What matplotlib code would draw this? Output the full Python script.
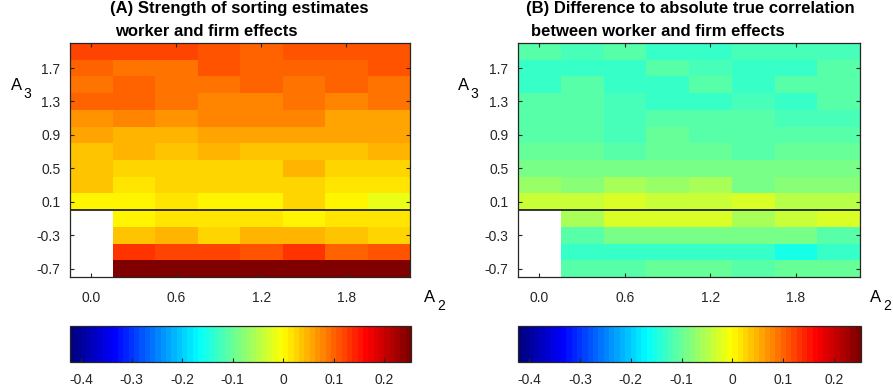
#!/usr/bin/env python3
"""
Heatmaps of sorting strength (A) and difference to true correlation (B) over A2 x A3.
"""

import numpy as np
import matplotlib
matplotlib.use('Agg')
import matplotlib.pyplot as plt
from matplotlib.colors import LinearSegmentedColormap

plt.rcParams['font.family'] = ['Liberation Sans', 'DejaVu Sans']

# grid centres
a2 = [0.0, 0.3, 0.6, 0.9, 1.2, 1.5, 1.8, 2.1]
a3 = [1.9, 1.7, 1.5, 1.3, 1.1, 0.9, 0.7, 0.5, 0.3, 0.1, -0.1, -0.3, -0.5, -0.7]  # top -> bottom

nan = float('nan')

# (A) strength of sorting estimates, rows follow a3
sorting_est = [
    [0.124, 0.124, 0.124, 0.114, 0.103, 0.114, 0.114, 0.114],
    [0.101, 0.093, 0.093, 0.114, 0.103, 0.103, 0.103, 0.114],
    [0.093, 0.103, 0.093, 0.093, 0.103, 0.093, 0.103, 0.093],
    [0.098, 0.098, 0.087, 0.077, 0.077, 0.087, 0.077, 0.093],
    [0.072, 0.082, 0.072, 0.082, 0.082, 0.077, 0.061, 0.061],
    [0.061, 0.051, 0.045, 0.061, 0.061, 0.061, 0.061, 0.061],
    [0.040, 0.051, 0.040, 0.051, 0.040, 0.040, 0.040, 0.051],
    [0.040, 0.024, 0.030, 0.030, 0.024, 0.045, 0.030, 0.030],
    [0.040, 0.014, 0.024, 0.024, 0.024, 0.024, 0.014, 0.014],
    [0.002, 0.002, 0.014, 0.002, 0.002, 0.024, 0.002, -0.011],
    [nan, 0.003, 0.014, 0.019, 0.019, 0.002, 0.014, 0.014],
    [nan, 0.035, 0.045, 0.030, 0.045, 0.045, 0.035, 0.024],
    [nan, 0.135, 0.124, 0.124, 0.114, 0.130, 0.103, 0.114],
    [nan, 0.270, 0.270, 0.270, 0.270, 0.270, 0.270, 0.270],
]

# (B) difference to absolute true correlation, rows follow a3
corr_diff = [
    [-0.116, -0.121, -0.111, -0.127, -0.137, -0.121, -0.121, -0.121],
    [-0.137, -0.137, -0.137, -0.111, -0.121, -0.137, -0.127, -0.111],
    [-0.137, -0.111, -0.127, -0.127, -0.111, -0.137, -0.111, -0.111],
    [-0.111, -0.111, -0.121, -0.137, -0.127, -0.121, -0.137, -0.116],
    [-0.111, -0.111, -0.121, -0.111, -0.111, -0.111, -0.121, -0.121],
    [-0.111, -0.111, -0.121, -0.100, -0.116, -0.116, -0.116, -0.116],
    [-0.100, -0.100, -0.116, -0.100, -0.100, -0.111, -0.100, -0.100],
    [-0.095, -0.095, -0.090, -0.095, -0.095, -0.085, -0.095, -0.095],
    [-0.064, -0.079, -0.053, -0.069, -0.053, -0.085, -0.079, -0.079],
    [-0.032, -0.032, -0.022, -0.032, -0.032, -0.022, -0.043, -0.043],
    [nan, -0.053, -0.022, -0.022, -0.022, -0.053, -0.037, -0.022],
    [nan, -0.106, -0.095, -0.095, -0.095, -0.095, -0.095, -0.106],
    [nan, -0.127, -0.127, -0.137, -0.137, -0.127, -0.148, -0.132],
    [nan, -0.116, -0.116, -0.100, -0.100, -0.116, -0.100, -0.100],
]

x_ticks = [0.0, 0.6, 1.2, 1.8]
y_ticks = [-0.7, -0.3, 0.1, 0.5, 0.9, 1.3, 1.7]
cbar_ticks = [-0.4, -0.3, -0.2, -0.1, 0, 0.1, 0.2]
clim = (-0.422, 0.253)

titles = [
    ('(A) Strength of sorting estimates', 'worker and firm effects'),
    ('(B) Difference to absolute true correlation', 'between worker and firm effects'),
]

# MATLAB style jet, 64 levels
matlab_jet = LinearSegmentedColormap.from_list(
    'matlab_jet',
    [(0.0, (0, 0, 0.5)), (0.125, (0, 0, 1)), (0.375, (0, 1, 1)),
     (0.625, (1, 1, 0)), (0.875, (1, 0, 0)), (1.0, (0.5, 0, 0))],
    N=64)

FRAME = '#262626'
TICK_FS = 10


def draw_panel(fig, ax_rect, cb_rect, data, title, title_x):
    ax = fig.add_axes(ax_rect)
    z = np.array(data, dtype=float)
    mesh = ax.pcolormesh(a2, a3, z, cmap=matlab_jet, vmin=clim[0], vmax=clim[1],
                         shading='nearest')
    ax.axhline(0, color='black', linewidth=1.1)
    ax.set_xlim(-0.15, 2.25)
    ax.set_ylim(-0.8, 2.0)
    ax.set_xticks(x_ticks)
    ax.set_xticklabels([f'{v:.1f}' for v in x_ticks])
    ax.set_yticks(y_ticks)
    ax.set_yticklabels([f'{v:.1f}' for v in y_ticks])
    ax.tick_params(direction='in', length=3, width=0.8, colors=FRAME,
                   labelsize=TICK_FS, top=True, right=True, pad=7)
    ax.tick_params(axis='x', pad=10)
    for s in ax.spines.values():
        s.set_color(FRAME)
        s.set_linewidth(0.9)

    # two-line bold title
    fig.text(title_x[0], 1 - 9 / 391, title[0], fontsize=12, fontweight='bold',
             ha='left', va='center')
    fig.text(title_x[1], 1 - 31 / 391, title[1], fontsize=12, fontweight='bold',
             ha='left', va='center')

    cax = fig.add_axes(cb_rect)
    cb = fig.colorbar(mesh, cax=cax, orientation='horizontal', ticks=cbar_ticks)
    cb.ax.set_xticklabels(['-0.4', '-0.3', '-0.2', '-0.1', '0', '0.1', '0.2'])
    cb.ax.tick_params(direction='in', length=3, width=0.8, colors=FRAME,
                      labelsize=TICK_FS, pad=8)
    cb.outline.set_edgecolor(FRAME)
    cb.outline.set_linewidth(0.9)
    return ax


def main():
    W, H = 893, 391
    fig = plt.figure(figsize=(W / 100, H / 100), dpi=100)

    def rect(x0, y0, x1, y1):
        return [x0 / W, 1 - y1 / H, (x1 - x0) / W, (y1 - y0) / H]

    draw_panel(fig, rect(70, 43, 410, 277), rect(70, 326, 411, 362),
               sorting_est, titles[0], (110 / W, 115 / W))
    draw_panel(fig, rect(518, 43, 860, 277), rect(518, 326, 861, 362),
               corr_diff, titles[1], (526 / W, 531 / W))

    # axis labels with detached subscripts
    for xa, ya in [(11, 86), (458, 86)]:
        fig.text(xa / W, 1 - ya / H, 'A', fontsize=12, ha='left', va='center')
        fig.text((xa + 12) / W, 1 - (ya + 8) / H, '3', fontsize=10, ha='left', va='center')
    for xa, ya in [(424, 298), (870, 298)]:
        fig.text(xa / W, 1 - ya / H, 'A', fontsize=12, ha='left', va='center')
        fig.text((xa + 13) / W, 1 - (ya + 8) / H, '2', fontsize=10, ha='left', va='center')

    fig.savefig('out.png', dpi=100)


if __name__ == "__main__":
    main()
